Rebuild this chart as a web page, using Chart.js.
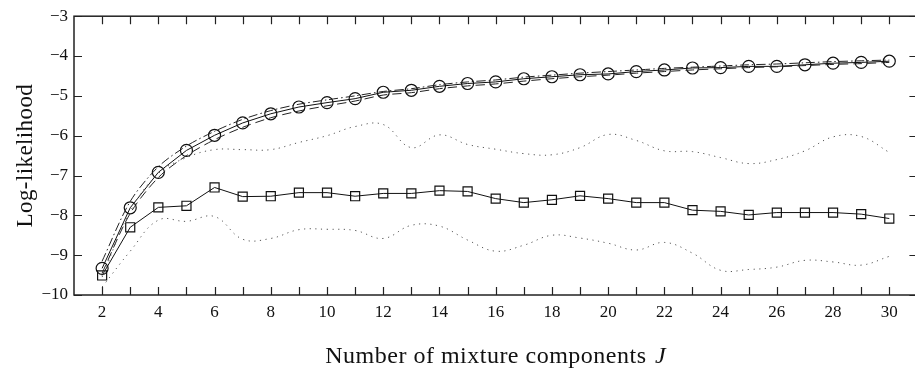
<!DOCTYPE html>
<html>
<head>
<meta charset="utf-8">
<script src="https://cdn.jsdelivr.net/npm/chart.js@4/dist/chart.umd.min.js"></script>
<style>
  html, body { margin: 0; padding: 0; overflow: hidden; background: #fff; }
  #wrap { width: 925px; height: 371px; }
</style>
</head>
<body>
<div id="wrap"><canvas id="chart"></canvas></div>
<script>
// number of mixture components J
const components = [2, 3, 4, 5, 6, 7, 8, 9, 10, 11, 12, 13, 14, 15, 16, 17, 18, 19, 20, 21, 22, 23, 24, 25, 26, 27, 28, 29, 30];

// solid line with circles
const circleSeries = [-9.33, -7.81, -6.92, -6.37, -5.99, -5.68, -5.45, -5.28, -5.17, -5.07, -4.91, -4.86, -4.76, -4.69, -4.65,
  -4.57, -4.52, -4.47, -4.45, -4.39, -4.35, -4.30, -4.29, -4.26, -4.26, -4.22, -4.18, -4.16, -4.13];
// dash-dot line (just above circles)
const dashDotSeries = [-9.15, -7.65, -6.78, -6.26, -5.89, -5.59, -5.37, -5.21, -5.10, -5.00, -4.89, -4.82, -4.72, -4.65, -4.60,
  -4.53, -4.48, -4.43, -4.39, -4.35, -4.31, -4.28, -4.25, -4.22, -4.20, -4.17, -4.14, -4.12, -4.10];
// dashed line (just below circles)
const dashedSeries = [-9.45, -7.95, -7.05, -6.50, -6.10, -5.79, -5.55, -5.38, -5.25, -5.13, -4.98, -4.92, -4.82, -4.75, -4.70,
  -4.63, -4.57, -4.52, -4.48, -4.43, -4.39, -4.35, -4.32, -4.29, -4.27, -4.24, -4.21, -4.19, -4.16];

// solid line with squares
const squareSeries = [-9.51, -8.30, -7.80, -7.76, -7.30, -7.53, -7.52, -7.43, -7.43, -7.52, -7.45, -7.45, -7.38, -7.40, -7.58,
  -7.68, -7.61, -7.51, -7.58, -7.68, -7.68, -7.87, -7.90, -7.99, -7.93, -7.93, -7.93, -7.97, -8.08];
// dotted bounds around the squares
const upperDotted = [-9.55, -7.90, -6.95, -6.55, -6.35, -6.35, -6.35, -6.17, -6.00, -5.77, -5.72, -6.30, -5.98, -6.22, -6.34,
  -6.45, -6.48, -6.30, -5.97, -6.12, -6.38, -6.40, -6.55, -6.70, -6.60, -6.38, -6.03, -6.02, -6.42];
const lowerDotted = [-9.80, -8.90, -8.12, -8.15, -8.03, -8.60, -8.58, -8.36, -8.35, -8.38, -8.58, -8.25, -8.27, -8.62, -8.90,
  -8.75, -8.50, -8.57, -8.70, -8.87, -8.68, -8.95, -9.38, -9.36, -9.30, -9.13, -9.17, -9.25, -9.03];

const yTicks = [-10, -9, -8, -7, -6, -5, -4, -3];

const pts = arr => arr.map((v, i) => ({ x: components[i], y: v }));
const serif = '"Liberation Serif", "Times New Roman", serif';

// frame, inward tick marks and axis titles
const framePlugin = {
  id: 'frame',
  afterDraw(chart) {
    const { ctx, chartArea: a, scales } = chart;
    ctx.save();
    ctx.strokeStyle = '#222';
    ctx.lineWidth = 1.5;
    ctx.strokeRect(a.left, a.top, a.right - a.left, a.bottom - a.top);
    ctx.lineWidth = 1.2;
    ctx.beginPath();
    components.forEach(v => {
      const px = Math.round(scales.x.getPixelForValue(v)) + 0.5;
      ctx.moveTo(px, a.bottom); ctx.lineTo(px, a.bottom - 8);
      ctx.moveTo(px, a.top); ctx.lineTo(px, a.top + 8);
    });
    yTicks.forEach(v => {
      const py = Math.round(scales.y.getPixelForValue(v)) + 0.5;
      ctx.moveTo(a.left, py); ctx.lineTo(a.left + 8, py);
      ctx.moveTo(a.right, py); ctx.lineTo(a.right - 8, py);
    });
    ctx.stroke();

    ctx.fillStyle = '#111';
    // x title with italic J
    const t1 = 'Number of mixture components ';
    ctx.letterSpacing = '0.5px';
    ctx.font = '24px ' + serif;
    const w1 = ctx.measureText(t1).width + 2;
    ctx.font = 'italic 24px ' + serif;
    const w2 = ctx.measureText('J').width;
    const cx = (a.left + a.right) / 2;
    const x0 = cx - (w1 + w2) / 2;
    ctx.textBaseline = 'alphabetic';
    ctx.textAlign = 'left';
    ctx.font = '24px ' + serif;
    ctx.fillText(t1, x0, 363);
    ctx.font = 'italic 24px ' + serif;
    ctx.fillText('J', x0 + w1, 363);

    // y title
    ctx.letterSpacing = '0.4px';
    ctx.translate(32, (a.top + a.bottom) / 2);
    ctx.rotate(-Math.PI / 2);
    ctx.textAlign = 'center';
    ctx.font = '23px ' + serif;
    ctx.fillText('Log-likelihood', 0, 0);
    ctx.restore();
  }
};

const solid = { borderColor: '#111', borderWidth: 1, tension: 0, pointBorderColor: '#111',
  pointBackgroundColor: 'rgba(0,0,0,0)', pointBorderWidth: 1.2 };
const thin = { borderWidth: 1, tension: 0.3, pointRadius: 0 };

new Chart(document.getElementById('chart'), {
  type: 'line',
  data: {
    datasets: [
      { label: 'upper bound', data: pts(upperDotted), ...thin, borderColor: '#555', borderDash: [1.2, 4.5], tension: 0.4 },
      { label: 'lower bound', data: pts(lowerDotted), ...thin, borderColor: '#555', borderDash: [1.2, 4.5], tension: 0.4 },
      { label: 'dash-dot', data: pts(dashDotSeries), ...thin, borderColor: '#222', borderDash: [9, 3, 1.5, 3] },
      { label: 'dashed', data: pts(dashedSeries), ...thin, borderColor: '#222', borderDash: [9, 5] },
      { label: 'squares', data: pts(squareSeries), ...solid, pointStyle: 'rect', pointRadius: 6.4 },
      { label: 'circles', data: pts(circleSeries), ...solid, pointStyle: 'circle', pointRadius: 6 }
    ]
  },
  options: {
    responsive: true,
    maintainAspectRatio: false,
    animation: false,
    layout: { padding: { top: 7, right: 5, left: 0, bottom: 0 } },
    plugins: { legend: { display: false }, tooltip: { enabled: false } },
    scales: {
      x: {
        type: 'linear', min: 1, max: 31,
        afterFit: s => { s.height = 76; },
        afterBuildTicks: s => { s.ticks = components.map(v => ({ value: v })); },
        grid: { display: false, drawTicks: false },
        border: { display: false },
        ticks: {
          autoSkip: false, maxRotation: 0, padding: 7, color: '#111',
          font: { family: serif, size: 17 },
          callback: v => (v % 2 === 0 ? String(v) : '')
        }
      },
      y: {
        min: -10, max: -3,
        afterFit: s => { s.width = 74; },
        afterBuildTicks: s => { s.ticks = yTicks.map(v => ({ value: v })); },
        grid: { display: false, drawTicks: false },
        border: { display: false },
        ticks: {
          padding: 6, color: '#111',
          font: { family: serif, size: 17 },
          callback: v => (v < 0 ? '\u2212' + Math.abs(v) : String(v))
        }
      }
    }
  },
  plugins: [framePlugin]
});
</script>
</body>
</html>
